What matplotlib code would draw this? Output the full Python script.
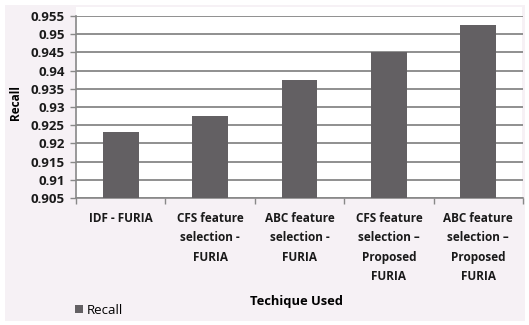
import matplotlib
matplotlib.use("Agg")
import matplotlib.pyplot as plt
from matplotlib.patches import Rectangle
import numpy as np

categories = ["IDF - FURIA", "CFS feature\nselection -\nFURIA", "ABC feature\nselection -\nFURIA",
              "CFS feature\nselection \u2013\nProposed\nFURIA", "ABC feature\nselection \u2013\nProposed\nFURIA"]
recall = [0.923, 0.9275, 0.9375, 0.9452, 0.9525]
yticks = [0.905, 0.91, 0.915, 0.92, 0.925, 0.93, 0.935, 0.94, 0.945, 0.95, 0.955]
ytick_labels = ["0.905", "0.91", "0.915", "0.92", "0.925", "0.93", "0.935", "0.94", "0.945", "0.95", "0.955"]

plt.rcParams['font.family'] = ['Open Sans', 'DejaVu Sans']

W, H = 529, 325
fig = plt.figure(figsize=(W/100, H/100), dpi=100, facecolor='white')
# chart-area background
fig.patches.append(Rectangle((5/W, 1-321/H), (525-5)/W, (321-5)/H, transform=fig.transFigure,
                             facecolor='#f6f1f5', edgecolor='none', zorder=-2))
# plot-area background
fig.patches.append(Rectangle((76/W, 1-198/H), (522-76)/W, (198-7)/H, transform=fig.transFigure,
                             facecolor='white', edgecolor='none', zorder=-1))

ax = fig.add_axes([76/W, 1-198/H, (523-76)/W, (198-16)/H])
ax.patch.set_alpha(0)

x = np.arange(len(categories))
ax.bar(x, recall, width=0.4, color="#636063", zorder=3, label="Recall")
ax.set_xlim(-0.5, len(categories)-0.5)
ax.set_ylim(0.905, 0.955)
ax.set_yticks(yticks)
ax.set_yticklabels(ytick_labels, fontsize=9.5, fontweight='bold', color='#1a1a1a')
ax.set_xticks(x)
ax.set_xticklabels(categories, fontsize=8.5, fontweight='bold', color='#1a1a1a', linespacing=1.65, va='top')
ax.tick_params(axis='x', length=0, pad=10)
ax.tick_params(axis='y', length=4, color='#888888', width=1, pad=4)
ax.set_xticks(np.arange(len(categories)+1)-0.5, minor=True)
ax.tick_params(axis='x', which='minor', length=4, color='#888888', width=1)
ax.yaxis.grid(True, color='#8f8f8f', linewidth=1.4, zorder=0)
ax.set_axisbelow(True)
for s in ['top', 'right']:
    ax.spines[s].set_visible(False)
ax.spines['left'].set_color('#888888')
ax.spines['left'].set_linewidth(1.2)
ax.spines['bottom'].set_color('#888888')
ax.spines['bottom'].set_linewidth(1.2)

ax.set_ylabel("Recall", fontsize=8.5, fontweight='bold')
ax.yaxis.set_label_coords((22-76)/(523-76), (198-102)/(198-16))
fig.text(296/W, 1-302/H, "Techique Used", ha='center', va='center', fontsize=9.3, fontweight='bold')
fig.legend(loc='lower left', bbox_to_anchor=(70/W, 1-322/H), frameon=False, fontsize=9.5,
           handlelength=0.6, handleheight=0.6, handletextpad=0.25, borderaxespad=0)

fig.savefig("out.png", dpi=100, facecolor=fig.get_facecolor())
